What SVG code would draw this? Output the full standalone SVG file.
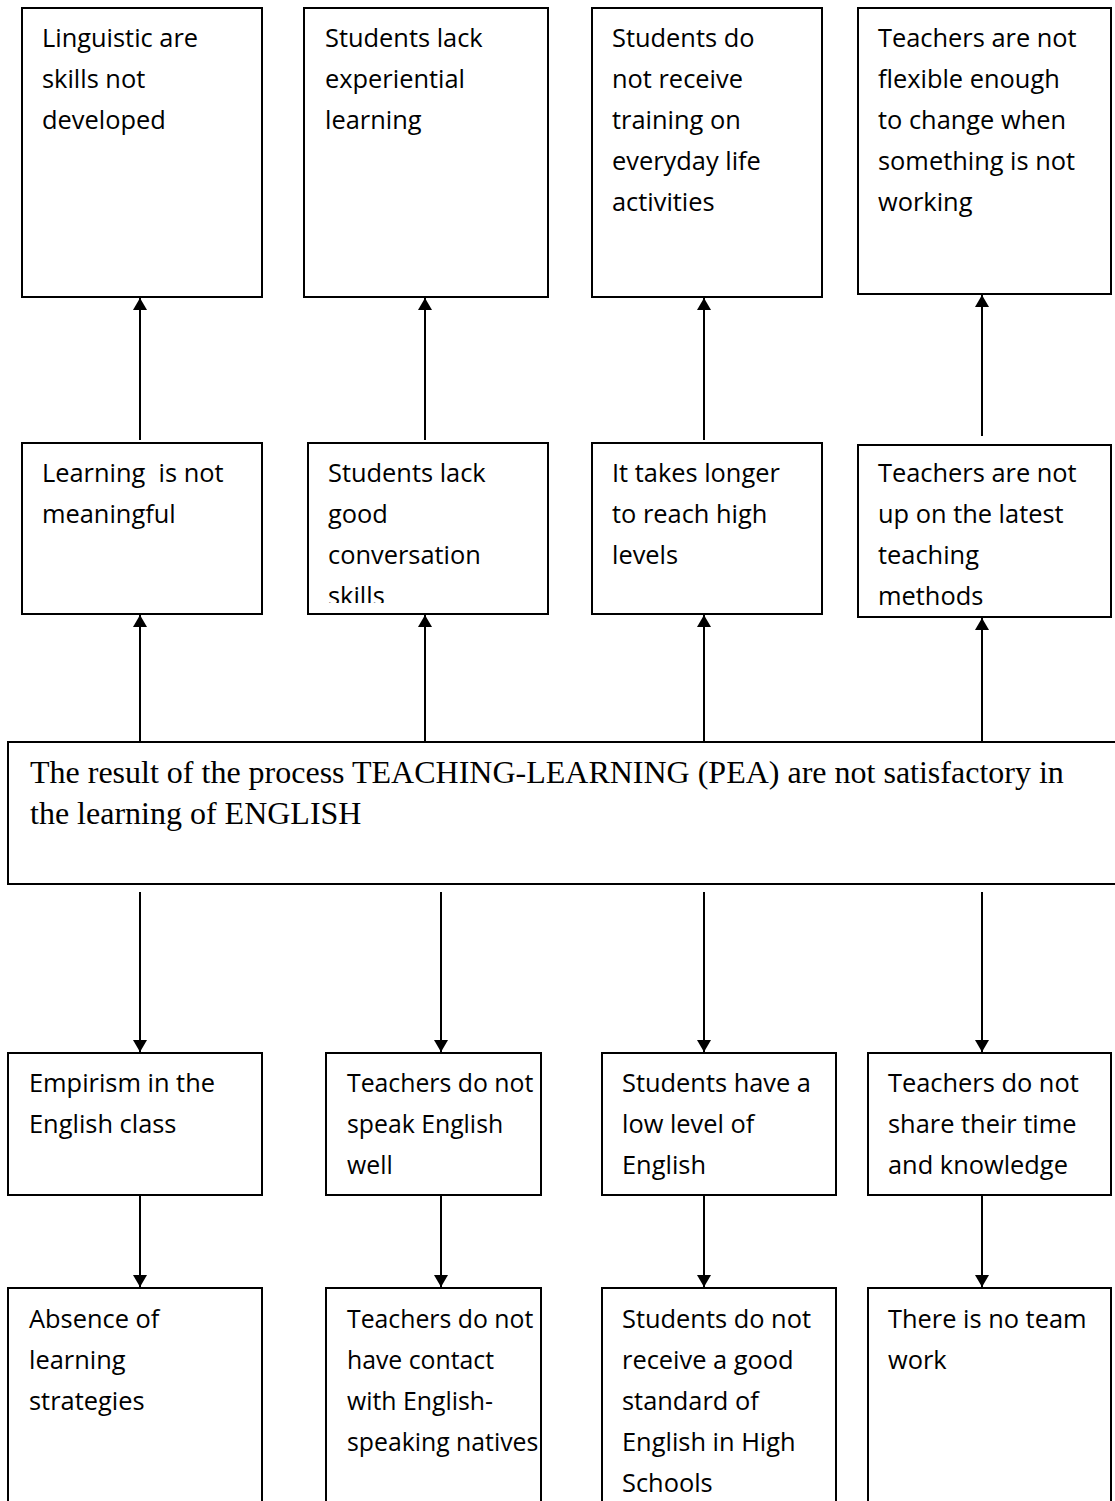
<svg xmlns="http://www.w3.org/2000/svg" width="1115" height="1501" viewBox="0 0 1115 1501">
  <style>
    .box { fill: #ffffff; stroke: #000000; stroke-width: 2; }
    .lbl { font-family: "Open Sans", "Noto Sans", sans-serif; font-size: 25.4px; fill: #000000; }
    .narrow { font-size: 24.8px; }
    .main { font-family: "Liberation Serif", serif; font-size: 32px; fill: #000000; }
    .link { stroke: #000000; stroke-width: 2; fill: none; }
  </style>
  <defs>
    <marker id="arrow" viewBox="0 0 12 14" refX="12" refY="7" markerWidth="12" markerHeight="14" markerUnits="userSpaceOnUse" orient="auto">
      <path d="M0,0 L12,7 L0,14 Z" fill="#000000"/>
    </marker>
    <clipPath id="clip-conv">
      <rect x="308" y="443" width="240" height="160"/>
    </clipPath>
  </defs>
  <rect width="1115" height="1501" fill="#ffffff"/>

  <!-- connectors -->
  <g id="connectors">
    <!-- row 2 up to row 1 -->
    <line class="link" x1="140" y1="440" x2="140" y2="298" marker-end="url(#arrow)"/>
    <line class="link" x1="425" y1="440" x2="425" y2="298" marker-end="url(#arrow)"/>
    <line class="link" x1="704" y1="440" x2="704" y2="298" marker-end="url(#arrow)"/>
    <line class="link" x1="982" y1="436" x2="982" y2="295" marker-end="url(#arrow)"/>
    <!-- central problem up to row 2 -->
    <line class="link" x1="140" y1="742" x2="140" y2="615" marker-end="url(#arrow)"/>
    <line class="link" x1="425" y1="742" x2="425" y2="615" marker-end="url(#arrow)"/>
    <line class="link" x1="704" y1="742" x2="704" y2="615" marker-end="url(#arrow)"/>
    <line class="link" x1="982" y1="742" x2="982" y2="618" marker-end="url(#arrow)"/>
    <!-- central problem down to row 3 -->
    <line class="link" x1="140" y1="892" x2="140" y2="1052" marker-end="url(#arrow)"/>
    <line class="link" x1="441" y1="892" x2="441" y2="1052" marker-end="url(#arrow)"/>
    <line class="link" x1="704" y1="892" x2="704" y2="1052" marker-end="url(#arrow)"/>
    <line class="link" x1="982" y1="892" x2="982" y2="1052" marker-end="url(#arrow)"/>
    <!-- row 3 down to row 4 -->
    <line class="link" x1="140" y1="1196" x2="140" y2="1287" marker-end="url(#arrow)"/>
    <line class="link" x1="441" y1="1196" x2="441" y2="1287" marker-end="url(#arrow)"/>
    <line class="link" x1="704" y1="1196" x2="704" y2="1287" marker-end="url(#arrow)"/>
    <line class="link" x1="982" y1="1196" x2="982" y2="1287" marker-end="url(#arrow)"/>
  </g>

  <!-- row 1 -->
  <g id="n-linguistic">
    <rect class="box" x="22" y="8" width="240" height="289"/>
    <text class="lbl"><tspan x="42" y="47">Linguistic are</tspan><tspan x="42" y="88">skills not</tspan><tspan x="42" y="129">developed</tspan></text>
  </g>
  <g id="n-experiential">
    <rect class="box" x="304" y="8" width="244" height="289"/>
    <text class="lbl"><tspan x="325" y="47">Students lack</tspan><tspan x="325" y="88">experiential</tspan><tspan x="325" y="129">learning</tspan></text>
  </g>
  <g id="n-training">
    <rect class="box" x="592" y="8" width="230" height="289"/>
    <text class="lbl"><tspan x="612" y="47">Students do</tspan><tspan x="612" y="88">not receive</tspan><tspan x="612" y="129">training on</tspan><tspan x="612" y="170">everyday life</tspan><tspan x="612" y="211">activities</tspan></text>
  </g>
  <g id="n-flexible">
    <rect class="box" x="858" y="8" width="253" height="286"/>
    <text class="lbl"><tspan x="878" y="47">Teachers are not</tspan><tspan x="878" y="88">flexible enough</tspan><tspan x="878" y="129">to change when</tspan><tspan x="878" y="170">something is not</tspan><tspan x="878" y="211">working</tspan></text>
  </g>

  <!-- row 2 -->
  <g id="n-meaningful">
    <rect class="box" x="22" y="443" width="240" height="171"/>
    <text class="lbl" xml:space="preserve"><tspan x="42" y="482">Learning  is not</tspan><tspan x="42" y="523">meaningful</tspan></text>
  </g>
  <g id="n-conversation">
    <rect class="box" x="308" y="443" width="240" height="171"/>
    <text class="lbl" clip-path="url(#clip-conv)"><tspan x="328" y="482">Students lack</tspan><tspan x="328" y="523">good</tspan><tspan x="328" y="564">conversation</tspan><tspan x="328" y="605">skills</tspan></text>
  </g>
  <g id="n-longer">
    <rect class="box" x="592" y="443" width="230" height="171"/>
    <text class="lbl"><tspan x="612" y="482">It takes longer</tspan><tspan x="612" y="523">to reach high</tspan><tspan x="612" y="564">levels</tspan></text>
  </g>
  <g id="n-methods">
    <rect class="box" x="858" y="445" width="253" height="172"/>
    <text class="lbl"><tspan x="878" y="482">Teachers are not</tspan><tspan x="878" y="523">up on the latest</tspan><tspan x="878" y="564">teaching</tspan><tspan x="878" y="605">methods</tspan></text>
  </g>

  <!-- central problem -->
  <g id="n-problem">
    <rect class="box" x="8" y="742" width="1120" height="142"/>
    <text class="main"><tspan x="30" y="783">The result of the process TEACHING-LEARNING (PEA) are not satisfactory in</tspan><tspan x="30" y="824">the learning of ENGLISH</tspan></text>
  </g>

  <!-- row 3 -->
  <g id="n-empirism">
    <rect class="box" x="8" y="1053" width="254" height="142"/>
    <text class="lbl"><tspan x="29" y="1092">Empirism in the</tspan><tspan x="29" y="1133">English class</tspan></text>
  </g>
  <g id="n-speak">
    <rect class="box" x="326" y="1053" width="215" height="142"/>
    <text class="lbl narrow"><tspan x="347" y="1092">Teachers do not</tspan><tspan x="347" y="1133">speak English</tspan><tspan x="347" y="1174">well</tspan></text>
  </g>
  <g id="n-level">
    <rect class="box" x="602" y="1053" width="234" height="142"/>
    <text class="lbl"><tspan x="622" y="1092">Students have a</tspan><tspan x="622" y="1133">low level of</tspan><tspan x="622" y="1174">English</tspan></text>
  </g>
  <g id="n-share">
    <rect class="box" x="868" y="1053" width="243" height="142"/>
    <text class="lbl"><tspan x="888" y="1092">Teachers do not</tspan><tspan x="888" y="1133">share their time</tspan><tspan x="888" y="1174">and knowledge</tspan></text>
  </g>

  <!-- row 4 -->
  <g id="n-strategies">
    <rect class="box" x="8" y="1288" width="254" height="230"/>
    <text class="lbl"><tspan x="29" y="1328">Absence of</tspan><tspan x="29" y="1369">learning</tspan><tspan x="29" y="1410">strategies</tspan></text>
  </g>
  <g id="n-natives">
    <rect class="box" x="326" y="1288" width="215" height="230"/>
    <text class="lbl narrow"><tspan x="347" y="1328">Teachers do not</tspan><tspan x="347" y="1369">have contact</tspan><tspan x="347" y="1410">with English-</tspan><tspan x="347" y="1451">speaking natives</tspan></text>
  </g>
  <g id="n-standard">
    <rect class="box" x="602" y="1288" width="234" height="230"/>
    <text class="lbl"><tspan x="622" y="1328">Students do not</tspan><tspan x="622" y="1369">receive a good</tspan><tspan x="622" y="1410">standard of</tspan><tspan x="622" y="1451">English in High</tspan><tspan x="622" y="1492">Schools</tspan></text>
  </g>
  <g id="n-team">
    <rect class="box" x="868" y="1288" width="243" height="230"/>
    <text class="lbl"><tspan x="888" y="1328">There is no team</tspan><tspan x="888" y="1369">work</tspan></text>
  </g>
</svg>
